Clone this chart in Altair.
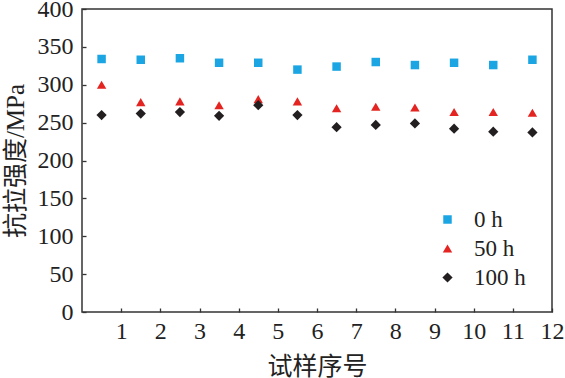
import altair as alt
import pandas as pd

# data
sample_x = [0.5, 1.5, 2.5, 3.5, 4.5, 5.5, 6.5, 7.5, 8.5, 9.5, 10.5, 11.5]
s_0h = [334, 333, 335, 329, 329, 320, 324, 330, 326, 329, 326, 333]
s_50h = [300, 277, 278, 273, 281, 278, 269, 271, 270, 264, 264, 263]
s_100h = [260, 262, 264, 259, 273, 260, 244, 247, 249, 242, 238, 237]
series_names = ["0 h", "50 h", "100 h"]
x_ticks = list(range(1, 13))
y_ticks = list(range(0, 401, 50))

rows = []
for name, vals in zip(series_names, [s_0h, s_50h, s_100h]):
    for xv, yv in zip(sample_x, vals):
        rows.append({"x": xv, "y": yv, "s": name})
df = pd.DataFrame(rows)

SERIF = "Liberation Serif"
TITLEFONT = "Liberation Serif, Noto Sans CJK SC"

legend_opts = dict(title=None, orient="none", legendX=354, legendY=199,
                   labelFont=SERIF, labelFontSize=23, labelColor="#222",
                   symbolSize=50, labelOffset=15, rowPadding=5,
                   symbolStrokeWidth=0)

chart = alt.Chart(df).mark_point(filled=True, opacity=1).encode(
    x=alt.X("x:Q", scale=alt.Scale(domain=[0, 12], nice=False, zero=False),
            axis=alt.Axis(values=x_ticks, title="试样序号", titlePadding=11, labelPadding=7,
                          labelFont=SERIF, titleFont=TITLEFONT)),
    y=alt.Y("y:Q", scale=alt.Scale(domain=[0, 400], nice=False),
            axis=alt.Axis(values=y_ticks, title="抗拉强度/MPa", titlePadding=9, labelPadding=9,
                          labelFont=SERIF, titleFont=TITLEFONT)),
    color=alt.Color("s:N", sort=series_names,
                    scale=alt.Scale(domain=series_names, range=["#1ba6e3", "#e42420", "#231f20"]),
                    legend=alt.Legend(**legend_opts)),
    shape=alt.Shape("s:N", sort=series_names,
                    scale=alt.Scale(domain=series_names, range=["square", "triangle-up", "diamond"]),
                    legend=alt.Legend(**legend_opts)),
    size=alt.Size("s:N", sort=series_names,
                  scale=alt.Scale(domain=series_names, range=[72, 105, 115]),
                  legend=None),
).properties(
    width=470, height=303,
    autosize=alt.AutoSizeParams(type="none"),
    padding={"left": 82, "top": 9, "right": 13, "bottom": 66},
    background="white",
).configure_view(
    stroke="#333", strokeWidth=1.5
).configure_axis(
    grid=False, domain=False, offset=-4, tickSize=4, tickColor="#333", tickWidth=1.3,
    labelFontSize=24, labelColor="#222", labelFlush=False,
    titleFontSize=25, titleFontWeight="normal", titleColor="#222",
)

chart.save("out.html", embed_options={"renderer": "svg", "actions": False})
